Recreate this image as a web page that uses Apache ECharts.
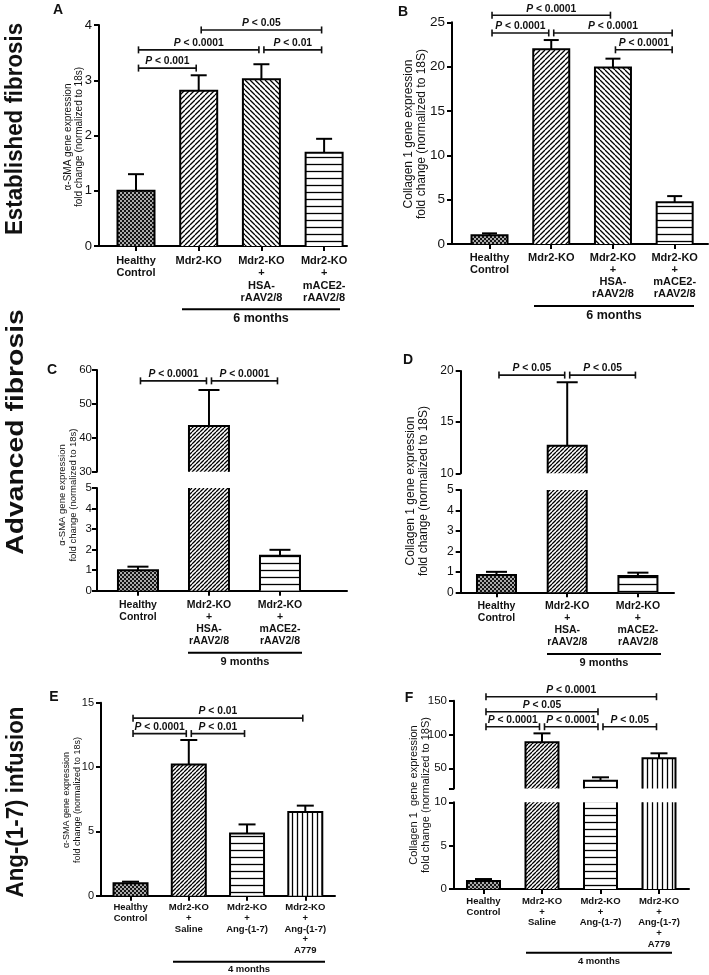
<!DOCTYPE html>
<html>
<head>
<meta charset="utf-8">
<title>Fibrosis panels</title>
<script src="https://cdn.jsdelivr.net/npm/echarts@6/dist/echarts.min.js"></script>
<style>
  html, body { margin: 0; padding: 0; background: #fff; }
  #main { width: 709px; height: 975px; }
</style>
</head>
<body>
<div id="main"></div>
<script>
// ---------- data ----------
// A: alpha-SMA, 6 months
const catsA = ['Healthy\nControl', 'Mdr2-KO', 'Mdr2-KO\n+\nHSA-\nrAAV2/8', 'Mdr2-KO\n+\nmACE2-\nrAAV2/8']
const meanA = [1.0, 2.81, 3.02, 1.69]
const semA = [0.30, 0.28, 0.27, 0.25]
const sigA = [[0, 1, 3.22, 'P < 0.001'], [0, 2, 3.55, 'P < 0.0001'], [2, 3, 3.55, 'P < 0.01'], [1, 3, 3.91, 'P < 0.05']]
const yTicksA = [0, 1, 2, 3, 4]

// B: collagen 1, 6 months
const catsB = ['Healthy\nControl', 'Mdr2-KO', 'Mdr2-KO\n+\nHSA-\nrAAV2/8', 'Mdr2-KO\n+\nmACE2-\nrAAV2/8']
const meanB = [1.0, 21.95, 19.9, 4.7]
const semB = [0.2, 1.05, 1.0, 0.7]
const sigB = [[0, 2, 25.8, 'P < 0.0001'], [0, 1, 23.8, 'P < 0.0001'], [1, 3, 23.8, 'P < 0.0001'], [2, 3, 21.9, 'P < 0.0001']]
const yTicksB = [0, 5, 10, 15, 20, 25]

// C: alpha-SMA, 9 months (broken axis)
const catsC = ['Healthy\nControl', 'Mdr2-KO\n+\nHSA-\nrAAV2/8', 'Mdr2-KO\n+\nmACE2-\nrAAV2/8']
const meanC = [1.0, 43.5, 1.7]
const semC = [0.17, 10.6, 0.29]
const sigC = [[0, 1, 56.8, 'P < 0.0001'], [1, 2, 56.8, 'P < 0.0001']]
const yTicksCLow = [0, 1, 2, 3, 4, 5]
const yTicksCUp = [30, 40, 50, 60]

// D: collagen 1, 9 months (broken axis)
const catsD = ['Healthy\nControl', 'Mdr2-KO\n+\nHSA-\nrAAV2/8', 'Mdr2-KO\n+\nmACE2-\nrAAV2/8']
const meanD = [0.85, 12.7, 0.8]
const semD = [0.15, 6.2, 0.16]
const sigD = [[0, 1, 19.6, 'P < 0.05'], [1, 2, 19.6, 'P < 0.05']]
const yTicksDLow = [0, 1, 2, 3, 4, 5]
const yTicksDUp = [10, 15, 20]

// E: alpha-SMA, Ang-(1-7) infusion, 4 months
const catsE = ['Healthy\nControl', 'Mdr2-KO\n+\nSaline', 'Mdr2-KO\n+\nAng-(1-7)', 'Mdr2-KO\n+\nAng-(1-7)\n+\nA779']
const meanE = [0.96, 10.2, 4.84, 6.5]
const semE = [0.13, 1.9, 0.7, 0.5]
const sigE = [[0, 3, 13.8, 'P < 0.01'], [0, 1, 12.6, 'P < 0.0001'], [1, 2, 12.6, 'P < 0.01']]
const yTicksE = [0, 5, 10, 15]

// F: collagen 1, Ang-(1-7) infusion, 4 months (broken axis)
const catsF = ['Healthy\nControl', 'Mdr2-KO\n+\nSaline', 'Mdr2-KO\n+\nAng-(1-7)', 'Mdr2-KO\n+\nAng-(1-7)\n+\nA779']
const meanF = [0.92, 88.5, 31.7, 64.8]
const semF = [0.23, 13.2, 5.0, 7.4]
const sigF = [[0, 3, 155.9, 'P < 0.0001'], [0, 2, 133.7, 'P < 0.05'], [0, 1, 111.5, 'P < 0.0001'], [1, 2, 111.5, 'P < 0.0001'], [2, 3, 111.5, 'P < 0.05']]
const yTicksFLow = [0, 5, 10]
const yTicksFUp = [20, 50, 100, 150]
const yLabelsFUp = [50, 100, 150]

// ---------- styling ----------
const FONT = "'Liberation Sans', Arial, Helvetica, sans-serif"
const INK = '#111'

function pat (kind, s) {
  const c = document.createElement('canvas')
  c.width = s
  c.height = s
  const g = c.getContext('2d')
  g.fillStyle = '#fff'
  g.fillRect(0, 0, s, s)
  g.strokeStyle = '#000'
  g.lineWidth = 1.3
  g.beginPath()
  if (kind === 'diagR') {
    for (let k = -1; k <= 1; k++) { g.moveTo(k * s, s); g.lineTo(k * s + s, 0) }
  } else if (kind === 'diagL') {
    for (let k = -1; k <= 1; k++) { g.moveTo(k * s, 0); g.lineTo(k * s + s, s) }
  } else if (kind === 'horiz') {
    g.moveTo(0, s / 2); g.lineTo(s, s / 2)
  } else if (kind === 'vert') {
    g.moveTo(s / 2, 0); g.lineTo(s / 2, s)
  }
  g.stroke()
  if (kind === 'check') {
    g.fillStyle = '#151515'
    g.fillRect(0, 0, s, s)
    g.fillStyle = '#fff'
    g.fillRect(0.2, 0.2, 1.6, 1.6)
    g.fillRect(2.2, 2.2, 1.6, 1.6)
  }
  return { image: c, repeat: 'repeat' }
}

const PAT = {
  check: pat('check', 4),
  diagR5: pat('diagR', 5),
  diagL5: pat('diagL', 5),
  diagR4: pat('diagR', 4),
  horiz7: pat('horiz', 7),
  vert5: pat('vert', 5)
}

const panels = [
  { cats: catsA, mean: meanA, sem: semA, sig: sigA, fills: ['check', 'diagR5', 'diagL5', 'horiz7'],
    left: 99, width: 248, xMin: -0.59, xMax: 3.365, barW: 37, capW: 16,
    xFont: 11, xLh: 12.2, xMargin: 9, yFont: 13, yMargin: 7,
    low: { top: 25, height: 221, min: 0, max: 4, ticks: yTicksA } },
  { cats: catsB, mean: meanB, sem: semB, sig: sigB, fills: ['check', 'diagR5', 'diagL5', 'horiz7'],
    left: 452, width: 256, xMin: -0.608, xMax: 3.54, barW: 36, capW: 15,
    xFont: 11, xLh: 12, xMargin: 8, yFont: 13.5, yMargin: 7,
    low: { top: 22.3, height: 221.7, min: 0, max: 25, ticks: yTicksB } },
  { cats: catsC, mean: meanC, sem: semC, sig: sigC, fills: ['check', 'diagR4', 'horiz7'],
    left: 97, width: 250, xMin: -0.577, xMax: 2.944, barW: 40, capW: 21,
    xFont: 10.5, xLh: 12, xMargin: 8, yFont: 11.5, yMargin: 5,
    low: { top: 488, height: 102.7, min: 0, max: 5, ticks: yTicksCLow },
    up: { top: 370, height: 101.7, min: 30, max: 60, ticks: yTicksCUp } },
  { cats: catsD, mean: meanD, sem: semD, sig: sigD, fills: ['check', 'diagR4', 'horiz7'],
    left: 460.7, width: 213.3, xMin: -0.506, xMax: 2.51, barW: 39, capW: 21,
    xFont: 10.5, xLh: 12, xMargin: 8, yFont: 12, yMargin: 7,
    low: { top: 490, height: 102.3, min: 0, max: 5, ticks: yTicksDLow },
    up: { top: 371, height: 102.3, min: 10, max: 20, ticks: yTicksDUp } },
  { cats: catsE, mean: meanE, sem: semE, sig: sigE, fills: ['check', 'diagR4', 'horiz7', 'vert5'],
    left: 101, width: 234, xMin: -0.507, xMax: 3.51, barW: 34, capW: 17,
    xFont: 9.5, xLh: 10.7, xMargin: 6.5, yFont: 11, yMargin: 7,
    low: { top: 702.7, height: 193, min: 0, max: 15, ticks: yTicksE } },
  { cats: catsF, mean: meanF, sem: semF, sig: sigF, fills: ['check', 'diagR4', 'horiz7', 'vert5'],
    left: 454, width: 235, xMin: -0.504, xMax: 3.513, barW: 33, capW: 17,
    xFont: 9.5, xLh: 10.7, xMargin: 7, yFont: 11.5, yMargin: 7,
    low: { top: 802.3, height: 86.7, min: 0, max: 10, ticks: yTicksFLow },
    up: { top: 700.7, height: 87.9, min: 20, max: 150, ticks: yTicksFUp, labels: yLabelsFUp } }
]

// ---------- render helpers ----------
const strokeStyle = { stroke: '#000', lineWidth: 2, fill: 'none' }

function renderBars (P) {
  return function (params, api) {
    const cs = params.coordSys
    const i = api.value(0)
    const pTop = api.coord([i, api.value(1)])
    const pBase = api.coord([i, 0])
    const yMin = cs.y
    const yMax = cs.y + cs.height
    if (pTop[1] >= yMax) return null
    const x0 = pTop[0] - P.barW / 2
    const x1 = x0 + P.barW
    const topShown = pTop[1] >= yMin
    const yt = Math.max(pTop[1], yMin)
    const yb = Math.min(pBase[1], yMax)
    const children = [{
      type: 'rect',
      shape: { x: x0, y: yt, width: P.barW, height: yb - yt },
      style: { fill: PAT[P.fills[params.dataIndex]], stroke: 'none' }
    }]
    if (topShown) {
      children.push({ type: 'polyline', shape: { points: [[x0, yb], [x0, yt], [x1, yt], [x1, yb]] }, style: strokeStyle })
    } else {
      children.push({ type: 'line', shape: { x1: x0, y1: yt, x2: x0, y2: yb }, style: strokeStyle })
      children.push({ type: 'line', shape: { x1: x1, y1: yt, x2: x1, y2: yb }, style: strokeStyle })
    }
    return { type: 'group', children }
  }
}

function renderErr (P) {
  return function (params, api) {
    const cs = params.coordSys
    const yMin = cs.y
    const yMax = cs.y + cs.height
    const i = api.value(0)
    const p0 = api.coord([i, api.value(1)])
    const p1 = api.coord([i, api.value(2)])
    if (p1[1] > yMax || p0[1] < yMin) return null
    const ya = Math.min(p0[1], yMax)
    const yc = Math.max(p1[1], yMin)
    const children = [{ type: 'line', shape: { x1: p0[0], y1: ya, x2: p0[0], y2: yc }, style: strokeStyle }]
    if (p1[1] >= yMin) {
      children.push({ type: 'line', shape: { x1: p0[0] - P.capW / 2, y1: p1[1], x2: p0[0] + P.capW / 2, y2: p1[1] }, style: strokeStyle })
    }
    return { type: 'group', children }
  }
}

function renderSig (P) {
  return function (params, api) {
    const b = P.sig[params.dataIndex]
    const pa = api.coord([b[0], b[2]])
    const pb = api.coord([b[1], b[2]])
    const xa = pa[0] + 2.5
    const xb = pb[0] - 2.5
    const y = pa[1]
    const st = { stroke: INK, lineWidth: 1.6, fill: 'none' }
    return {
      type: 'group',
      children: [
        { type: 'line', shape: { x1: xa, y1: y, x2: xb, y2: y }, style: st },
        { type: 'line', shape: { x1: xa, y1: y - 3.5, x2: xa, y2: y + 3.5 }, style: st },
        { type: 'line', shape: { x1: xb, y1: y - 3.5, x2: xb, y2: y + 3.5 }, style: st },
        {
          type: 'text',
          x: (xa + xb) / 2,
          y: y - 1.5,
          style: {
            text: b[3].replace(/^P/, '{i|P}'),
            align: 'center', textAlign: 'center',
            verticalAlign: 'bottom', textVerticalAlign: 'bottom',
            fill: INK, fontSize: 10.3, fontWeight: 'bold', fontFamily: FONT,
            rich: { i: { fontStyle: 'italic', fontWeight: 'bold', fontSize: 10.3, fontFamily: FONT, fill: INK } }
          }
        }
      ]
    }
  }
}

// ---------- build option ----------
const grids = []
const xAxes = []
const yAxes = []
const series = []

panels.forEach(P => {
  const idx = P.cats.map((c, i) => i)
  const parts = P.up ? [P.low, P.up] : [P.low]
  parts.forEach((seg, k) => {
    const gi = grids.length
    const isLow = k === 0
    grids.push({ left: P.left, width: P.width, top: seg.top, height: seg.height, outerBoundsMode: 'none' })
    xAxes.push({
      type: 'value', gridIndex: gi, min: P.xMin, max: P.xMax, show: isLow,
      splitLine: { show: false },
      axisLine: { onZero: false, lineStyle: { color: '#000', width: 2 } },
      axisTick: { customValues: idx, length: 5, lineStyle: { color: '#000', width: 2 } },
      axisLabel: {
        customValues: idx,
        formatter: v => P.cats[Math.round(v)],
        fontSize: P.xFont, lineHeight: P.xLh, fontWeight: 'bold', color: INK,
        margin: P.xMargin, fontFamily: FONT
      }
    })
    yAxes.push({
      type: 'value', gridIndex: gi, min: seg.min, max: seg.max,
      splitLine: { show: false },
      axisLine: { show: true, onZero: false, lineStyle: { color: '#000', width: 2 } },
      axisTick: { show: true, customValues: seg.ticks, length: 5, lineStyle: { color: '#000', width: 2 } },
      axisLabel: {
        customValues: seg.labels || seg.ticks,
        fontSize: P.yFont, color: INK, margin: P.yMargin, fontFamily: FONT
      }
    })
    series.push({
      type: 'custom', xAxisIndex: gi, yAxisIndex: gi, silent: true, z: 3,
      data: P.mean.map((m, i) => [i, m]),
      encode: { x: 0, y: 1 },
      renderItem: renderBars(P)
    })
    series.push({
      type: 'custom', xAxisIndex: gi, yAxisIndex: gi, silent: true, z: 4,
      data: P.mean.map((m, i) => [i, m, m + P.sem[i]]),
      encode: { x: 0, y: [1, 2] },
      renderItem: renderErr(P)
    })
    if (k === parts.length - 1) {
      series.push({
        type: 'custom', xAxisIndex: gi, yAxisIndex: gi, silent: true, z: 5, clip: false,
        data: P.sig.map(b => [b[0], b[2], b[1]]),
        encode: { x: [0, 2], y: 1 },
        renderItem: renderSig(P)
      })
    }
  })
})

function txt (x, y, text, size, weight, extra) {
  return Object.assign({
    type: 'text', x, y,
    style: {
      text, fill: INK,
      font: (weight || 'normal') + ' ' + size + 'px ' + FONT,
      align: 'center', textAlign: 'center',
      verticalAlign: 'middle', textVerticalAlign: 'middle'
    }
  }, extra || {})
}

function vtxt (x, y, text, size, weight, lh, sx) {
  const t = txt(x, y, text, size, weight, { rotation: Math.PI / 2, scaleX: sx || 1 })
  if (lh) t.style.lineHeight = lh
  return t
}

function hline (x1, x2, y) {
  return { type: 'line', shape: { x1, y1: y, x2, y2: y }, style: { stroke: '#000', lineWidth: 2 } }
}

const SMA = 'α-SMA gene expression\nfold change (normalized to 18s)'
const COL = 'Collagen 1 gene expression\nfold change (normalized to 18S)'

const graphic = [
  // row labels
  vtxt(15, 129, 'Established fibrosis', 24, 'bold', null, 0.93),
  vtxt(16, 432, 'Advanced fibrosis', 24, 'bold', null, 1.18),
  vtxt(16, 802, 'Ang-(1-7) infusion', 24, 'bold', null, 0.93),
  // panel letters
  txt(58, 10, 'A', 14, 'bold'),
  txt(403, 12, 'B', 14, 'bold'),
  txt(52, 370, 'C', 14, 'bold'),
  txt(408, 360, 'D', 14, 'bold'),
  txt(54, 697, 'E', 14, 'bold'),
  txt(409, 698, 'F', 14, 'bold'),
  // y axis titles
  vtxt(73.5, 137, SMA, 10, 'normal', 11),
  vtxt(415.5, 134, COL, 12, 'normal', 13),
  vtxt(68, 495, SMA, 9.5, 'normal', 10.5),
  vtxt(417.5, 491, COL, 12, 'normal', 13),
  vtxt(72, 800, SMA, 9, 'normal', 10.5),
  vtxt(420, 795, 'Collagen 1  gene expression\nfold change (normalized to 18S)', 11, 'normal', 12),
  // period bars
  hline(182, 340, 309.3), txt(261, 318.5, '6 months', 12.5, 'bold'),
  hline(534, 694, 306), txt(614, 316, '6 months', 12.5, 'bold'),
  hline(188, 302, 652.7), txt(245, 662, '9 months', 11, 'bold'),
  hline(547, 661, 654), txt(604, 663, '9 months', 11, 'bold'),
  hline(173, 325, 961.7), txt(249, 969.5, '4 months', 9.5, 'bold'),
  hline(526, 672, 952.7), txt(599, 961.5, '4 months', 9.5, 'bold')
]

const chart = echarts.init(document.getElementById('main'))
chart.setOption({
  animation: false,
  backgroundColor: '#fff',
  grid: grids,
  xAxis: xAxes,
  yAxis: yAxes,
  series,
  graphic
})
</script>
</body>
</html>
